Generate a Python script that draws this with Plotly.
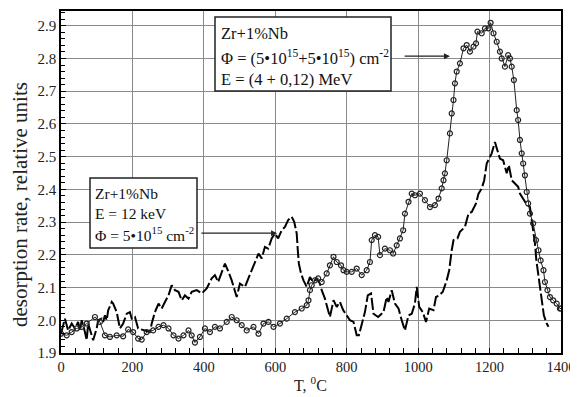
import plotly.graph_objects as go

# 4 MeV series (open circles)
t_mev = [0, 16, 30, 44, 58, 72, 95, 109, 123, 137, 156, 174, 188, 202, 216, 226, 240, 258, 273, 287,
         301, 315, 329, 343, 357, 366, 375, 389, 403, 417, 431, 445, 464, 478, 492, 506, 520, 539, 553,
         567, 581, 595, 613, 632, 655, 674, 688, 693, 697, 702, 711, 720, 730, 744, 753, 763, 772, 784,
         791, 800, 814, 828, 842, 856, 865, 870, 879, 888, 893, 907, 921, 930, 940, 949, 958, 963, 973,
         982, 991, 1005, 1019, 1033, 1047, 1057, 1066, 1071, 1075, 1080, 1089, 1094, 1099, 1103, 1108,
         1117, 1127, 1136, 1145, 1155, 1162, 1166, 1178, 1187, 1197, 1203, 1211, 1220, 1229, 1234, 1243,
         1252, 1257, 1262, 1268, 1276, 1280, 1285, 1290, 1294, 1299, 1304, 1308, 1313, 1322, 1330, 1337,
         1343, 1351, 1355, 1362, 1369, 1378, 1388, 1397, 1400]
v_mev = [1.959, 1.954, 1.964, 1.975, 1.980, 1.990, 2.010, 1.995, 1.954, 1.949, 1.954, 1.951, 1.972, 1.964,
         1.944, 1.941, 1.964, 1.969, 1.980, 1.985, 1.975, 1.954, 1.944, 1.954, 1.969, 1.954, 1.932, 1.949,
         1.975, 1.964, 1.980, 1.975, 1.995, 2.010, 2.000, 1.985, 1.969, 1.980, 1.959, 1.990, 1.995, 1.980,
         1.990, 2.005, 2.025, 2.036, 2.046, 2.061, 2.092, 2.107, 2.122, 2.128, 2.117, 2.143, 2.168, 2.194,
         2.178, 2.168, 2.153, 2.148, 2.148, 2.158, 2.138, 2.153, 2.178, 2.245, 2.260, 2.255, 2.199, 2.219,
         2.214, 2.204, 2.229, 2.250, 2.275, 2.326, 2.362, 2.387, 2.382, 2.387, 2.367, 2.346, 2.352, 2.372,
         2.403, 2.428, 2.449, 2.489, 2.571, 2.632, 2.673, 2.724, 2.760, 2.785, 2.831, 2.841, 2.821, 2.836,
         2.846, 2.882, 2.877, 2.892, 2.892, 2.909, 2.877, 2.851, 2.821, 2.800, 2.775, 2.810, 2.800, 2.775,
         2.734, 2.642, 2.612, 2.551, 2.510, 2.479, 2.443, 2.392, 2.357, 2.326, 2.296, 2.245, 2.214, 2.183,
         2.153, 2.117, 2.092, 2.071, 2.061, 2.051, 2.036, 2.036]

# 12 keV series (dashed)
t_kev = [0, 11, 20, 30, 39, 48, 53, 58, 67, 72, 76, 81, 86, 90, 100, 104, 114, 118, 123, 128, 132, 142,
         146, 156, 165, 174, 184, 193, 198, 207, 216, 235, 249, 254, 263, 273, 282, 291, 301, 310, 319,
         329, 338, 347, 357, 366, 380, 394, 408, 422, 431, 440, 459, 469, 478, 492, 501, 515, 529, 543,
         553, 562, 571, 580, 590, 599, 608, 618, 627, 636, 646, 653, 660, 663, 666, 672, 679, 688, 697,
         706, 716, 725, 730, 739, 753, 763, 772, 781, 790, 800, 809, 819, 828, 834, 842, 851, 859, 868,
         875, 888, 903, 912, 917, 926, 935, 945, 954, 963, 973, 982, 991, 996, 1003, 1013, 1022, 1031,
         1043, 1050, 1059, 1069, 1080, 1087, 1094, 1099, 1110, 1117, 1131, 1141, 1150, 1162, 1169, 1178,
         1185, 1192, 1206, 1215, 1222, 1229, 1238, 1248, 1254, 1262, 1271, 1280, 1285, 1294, 1302, 1313,
         1318, 1322, 1327, 1331, 1336, 1341, 1346, 1352, 1360, 1365]
v_kev = [1.959, 2.005, 1.969, 1.990, 1.975, 1.995, 1.969, 2.000, 1.964, 1.939, 1.990, 1.969, 1.949, 1.939,
         1.975, 2.000, 2.005, 1.995, 2.015, 2.000, 2.030, 2.056, 2.051, 2.025, 1.975, 1.990, 2.020, 2.025,
         2.005, 2.010, 1.975, 1.969, 1.964, 1.990, 2.025, 2.051, 2.036, 2.056, 2.076, 2.107, 2.092, 2.087,
         2.061, 2.076, 2.066, 2.087, 2.092, 2.082, 2.097, 2.128, 2.138, 2.117, 2.173, 2.148, 2.122, 2.071,
         2.112, 2.102, 2.138, 2.178, 2.204, 2.189, 2.224, 2.219, 2.250, 2.265, 2.250, 2.275, 2.285, 2.306,
         2.316, 2.301, 2.265, 2.214, 2.173, 2.143, 2.122, 2.102, 2.132, 2.117, 2.128, 2.112, 2.092, 2.066,
         2.010, 2.061, 2.041, 2.056, 2.031, 2.015, 2.000, 1.995, 1.954, 1.954, 1.990, 2.025, 2.076, 2.082,
         2.020, 2.010, 2.025, 2.071, 2.056, 2.092, 2.051, 2.036, 2.000, 1.969, 2.015, 2.020, 2.051, 2.102,
         2.041, 2.025, 1.995, 2.036, 2.031, 2.071, 2.076, 2.087, 2.122, 2.153, 2.214, 2.245, 2.250, 2.270,
         2.285, 2.326, 2.331, 2.357, 2.387, 2.403, 2.428, 2.479, 2.510, 2.545, 2.519, 2.494, 2.489, 2.449,
         2.474, 2.428, 2.418, 2.408, 2.387, 2.372, 2.357, 2.346, 2.306, 2.275, 2.235, 2.183, 2.143, 2.092,
         2.051, 2.015, 1.990, 1.980]

x_ticks = [0, 200, 400, 600, 800, 1000, 1200, 1400]
y_ticks = [1.9, 2.0, 2.1, 2.2, 2.3, 2.4, 2.5, 2.6, 2.7, 2.8, 2.9]

box1_lines = ["Zr+1%Nb",
              "Φ = (5•10<sup>15</sup>+5•10<sup>15</sup>) cm<sup>-2</sup>",
              "E = (4 + 0,12) MeV"]
box2_lines = ["Zr+1%Nb",
              "E = 12 keV",
              "Φ = 5•10<sup>15</sup> cm<sup>-2</sup>"]

FONT = "Liberation Serif"
OFF = 8  # page body margin
W, H = 578 - OFF, 397 - OFF
L, R, T, B = 61 - OFF, 17, 11 - OFF, 44
PW, PH = W - L - R, H - T - B


def px(x):
    return (x - OFF - L) / PW


def py(y):
    return 1 - (y - OFF - T) / PH


fig = go.Figure()
fig.add_trace(go.Scatter(x=t_kev, y=v_kev, mode="lines",
                         line=dict(color="black", width=2, dash="12px,3px"),
                         showlegend=False))
fig.add_trace(go.Scatter(x=t_mev, y=v_mev, mode="lines+markers",
                         line=dict(color="#222", width=1),
                         marker=dict(symbol="circle-open", size=5, color="#222", line=dict(width=1.2)),
                         showlegend=False))

fig.update_layout(
    width=W, height=H,
    margin=dict(l=L, r=R, t=T, b=B),
    paper_bgcolor="white", plot_bgcolor="white",
    font=dict(family=FONT, color="#222", size=15),
    xaxis=dict(range=[0, 1400], tickvals=x_ticks, ticktext=[str(v) for v in x_ticks],
               showgrid=True, gridcolor="#8a8a8a", gridwidth=1,
               showline=True, linecolor="black", linewidth=1.5, mirror=True,
               ticks="inside", ticklen=5, tickcolor="black",
               minor=dict(dtick=40, ticks="inside", ticklen=5, tickcolor="black", showgrid=False),
               zeroline=False, automargin=False,
               tickfont=dict(size=14.5, family=FONT, color="#222")),
    yaxis=dict(range=[1.9, 2.945], tickvals=y_ticks, ticktext=[f"{v:.1f}" for v in y_ticks],
               showgrid=True, gridcolor="#8a8a8a", gridwidth=1,
               showline=True, linecolor="black", linewidth=1.5, mirror=True,
               ticks="inside", ticklen=5, tickcolor="black",
               minor=dict(dtick=0.02, ticks="inside", ticklen=4, tickcolor="black", showgrid=False),
               zeroline=False, automargin=False,
               tickfont=dict(size=15, family=FONT, color="#222")),
)

# axis titles
fig.add_annotation(x=px(310), y=py(384), xref="paper", yref="paper", showarrow=False,
                   xanchor="center", yanchor="middle",
                   text="T, <sup>0</sup>C", font=dict(family=FONT, size=16, color="#222"))
fig.add_annotation(x=px(20), y=py(205), xref="paper", yref="paper", showarrow=False, textangle=-90,
                   xanchor="center", yanchor="middle",
                   text="desorption rate, relative units", font=dict(family=FONT, size=21, color="#222"))

# boxes
fig.add_shape(type="rect", xref="paper", yref="paper", x0=px(215), x1=px(391), y0=py(17), y1=py(91),
              line=dict(color="#222", width=1.5), fillcolor="white", layer="above")
fig.add_shape(type="rect", xref="paper", yref="paper", x0=px(90), x1=px(197), y0=py(178), y1=py(248),
              line=dict(color="#222", width=1.5), fillcolor="white", layer="above")
for line, yc in zip(box1_lines, [33, 57, 79]):
    fig.add_annotation(x=px(219), y=py(yc), xref="paper", yref="paper", showarrow=False,
                       xanchor="left", yanchor="middle",
                       text=line, font=dict(family=FONT, size=16.5, color="#111"))
for line, yc in zip(box2_lines, [193, 213, 234]):
    fig.add_annotation(x=px(93), y=py(yc), xref="paper", yref="paper", showarrow=False,
                       xanchor="left", yanchor="middle",
                       text=line, font=dict(family=FONT, size=15.5, color="#111"))

# arrows
fig.add_annotation(x=1089, y=2.807, ax=958, ay=2.807, xref="x", yref="y", axref="x", ayref="y",
                   text="", showarrow=True, arrowhead=2, arrowsize=1, arrowwidth=1.2, arrowcolor="#222")
fig.add_annotation(x=605, y=2.266, ax=389, ay=2.266, xref="x", yref="y", axref="x", ayref="y",
                   text="", showarrow=True, arrowhead=2, arrowsize=1, arrowwidth=1.2, arrowcolor="#222")

fig.write_html("out.html")
